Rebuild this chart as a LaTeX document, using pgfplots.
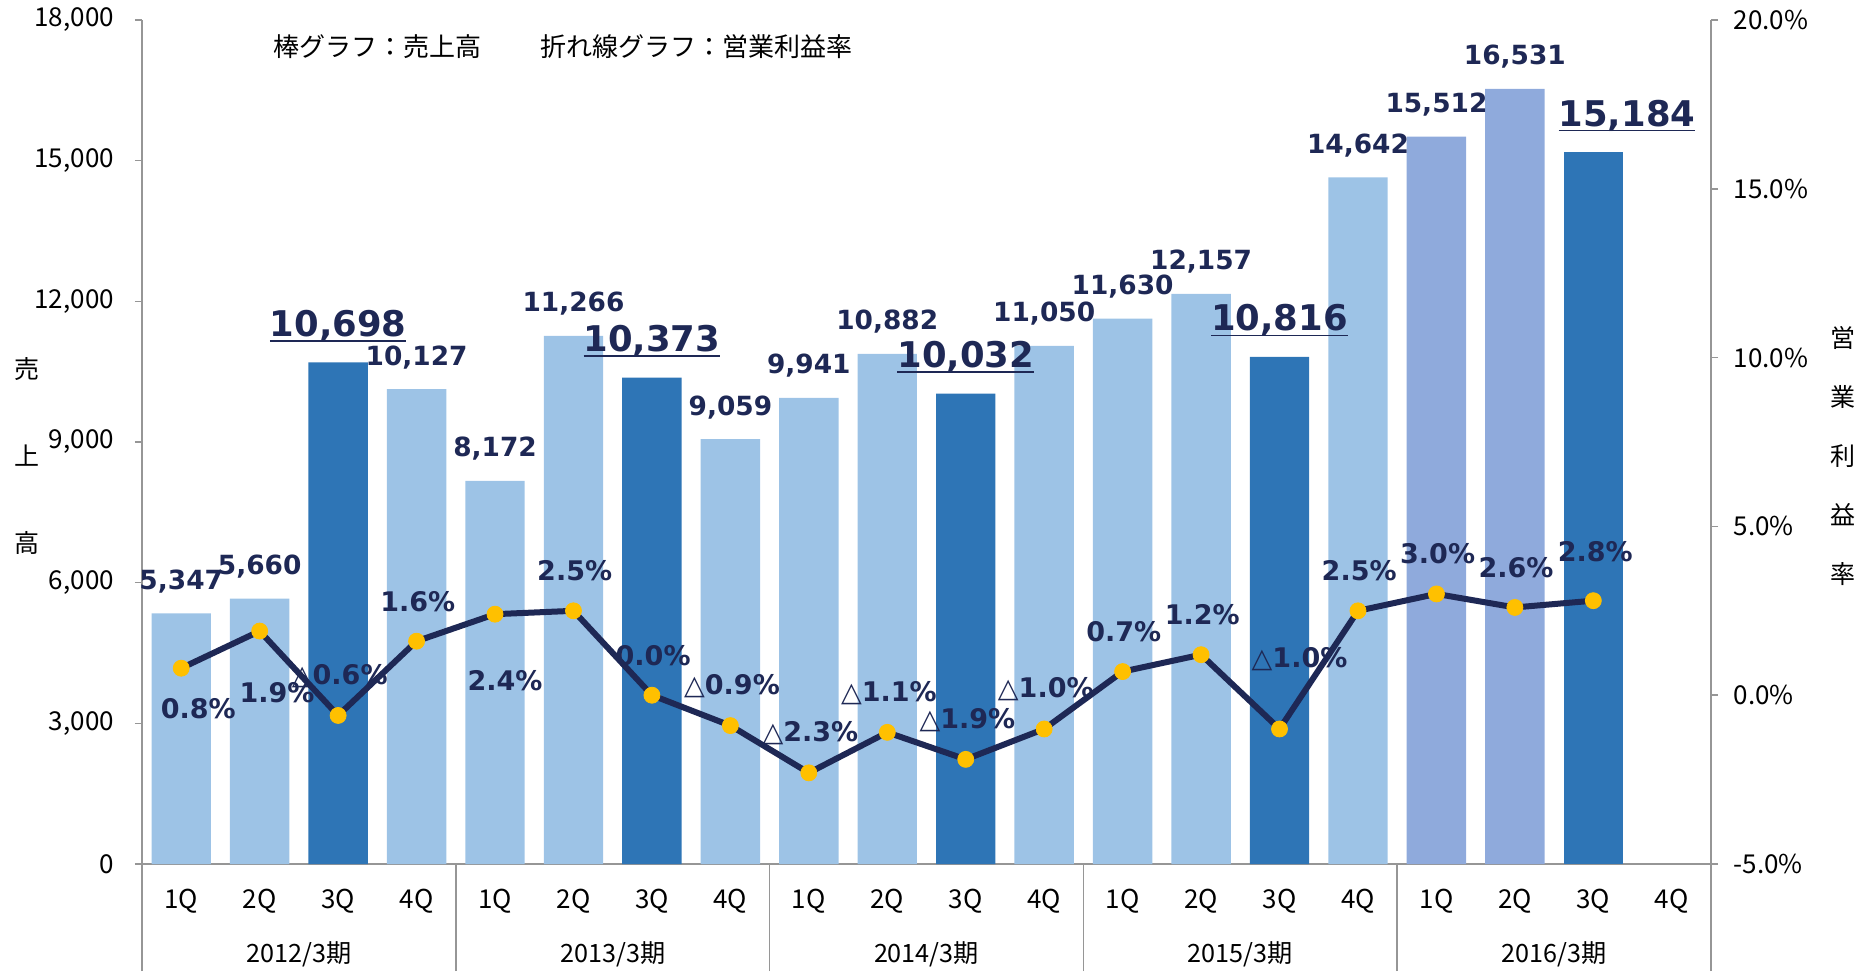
\documentclass[border=0pt]{standalone}
\usepackage{fontspec}
\usepackage{pgfplots}
\usepackage{pgfplotstable}
\pgfplotsset{compat=1.18}
\setmainfont{Noto Sans CJK JP}
\newfontfamily\lab{DejaVu Sans}
\definecolor{navy}{RGB}{30,40,85}
\definecolor{lb}{RGB}{157,195,230}
\definecolor{db}{RGB}{46,117,182}
\definecolor{pb}{RGB}{143,170,220}
\definecolor{gold}{RGB}{255,192,0}
\definecolor{axgray}{RGB}{150,150,150}
\newcommand\ulab[1]{\setbox0\hbox{#1}\rlap{\copy0}\rule[-2.6pt]{\wd0}{0.75pt}}
\newcommand\tri{{\mdseries △}}

\pgfplotstableread{
x y lab
0 5347 5,347
1 5660 5,660
3 10127 10,127
4 8172 8,172
5 11266 11,266
7 9059 9,059
8 9941 9,941
9 10882 10,882
11 11050 11,050
12 11630 11,630
13 12157 12,157
15 14642 14,642
}\lightbars
\pgfplotstableread{
x y lab
2 10698 10,698
6 10373 10,373
10 10032 10,032
14 10816 10,816
}\darkbars
\pgfplotstableread{
x y lab
18 15184 15,184
}\darkbarslast
\pgfplotstableread{
x y lab
16 15512 15,512
17 16531 16,531
}\purplebars
\pgfplotstableread{
x y
0 0.8
1 1.9
2 -0.6
3 1.6
4 2.4
5 2.5
6 0.0
7 -0.9
8 -2.3
9 -1.1
10 -1.9
11 -1.0
12 0.7
13 1.2
14 -1.0
15 2.5
16 3.0
17 2.6
18 2.8
}\margin

\begin{document}
\begin{tikzpicture}
\pgfplotsset{
  common/.style={
    at={(0pt,0pt)}, anchor=south west,
    scale only axis, width=784.5pt, height=422pt,
    xmin=-0.5, xmax=19.5,
    tick align=outside,
    major tick length=3.5pt,
    axis line style={draw=axgray, line width=0.75pt},
    y tick style={draw=axgray, line width=0.75pt},
    x tick style={draw=none},
    tick label style={font=\fontsize{13}{15}\selectfont, text=black},
    /pgf/number format/assume math mode=true,
    clip=false,
  },
  pct/.style n args={3}{draw=none, mark=none, point meta=explicit symbolic,
    nodes near coords={#1\pgfplotspointmeta\%},
    every node near coord/.append style={font=\lab\bfseries\fontsize{13.5}{15}\selectfont,
      text=navy, anchor=center, xshift=#2, yshift=#3}},
  smallbar/.style={ybar, bar width=29.7pt, bar shift=0pt, fill=#1, draw=none,
    point meta=explicit symbolic, nodes near coords,
    every node near coord/.append style={font=\lab\bfseries\fontsize{13.2}{15}\selectfont, text=navy, anchor=base, yshift=12pt}},
  bigbar/.style={ybar, bar width=29.7pt, bar shift=0pt, fill=db, draw=none,
    point meta=explicit symbolic, nodes near coords={\ulab{\pgfplotspointmeta}},
    every node near coord/.append style={font=\lab\bfseries\fontsize{17.7}{20}\selectfont, text=navy, anchor=base, yshift=13pt, xshift=#1}},
}
\begin{axis}[common,
  ymin=0, ymax=18000,
  ytick={0,3000,...,18000},
  scaled y ticks=false,
  axis y line*=left, axis x line*=bottom,
  /pgf/number format/.cd, fixed, 1000 sep={,}, /pgfplots/.cd,
  yticklabel style={anchor=east, xshift=-7pt},
  xtick={0,...,19},
  xticklabels={1Q,2Q,3Q,4Q,1Q,2Q,3Q,4Q,1Q,2Q,3Q,4Q,1Q,2Q,3Q,4Q,1Q,2Q,3Q,4Q},
  xticklabel style={anchor=center, yshift=-15pt},
  extra x ticks={-0.5,3.5,7.5,11.5,15.5,19.5},
  extra x tick labels={},
  extra x tick style={major tick length=53.5pt, x tick style={draw=axgray, line width=0.75pt}},
  ylabel={\begin{tabular}{@{}c@{}}売\\上\\高\end{tabular}},
  every axis y label/.style={at={(axis description cs:-0.0733,0.493)}, anchor=center, font=\fontsize{12.5}{43.5}\selectfont},
  title={棒グラフ：売上高\hspace{30pt}折れ線グラフ：営業利益率},
  title style={at={(axis description cs:0.079,0.954)}, anchor=west, font=\fontsize{13}{15}\selectfont},
]
\addplot[smallbar=lb] table[x=x, y=y, meta=lab]{\lightbars};
\addplot[smallbar=pb] table[x=x, y=y, meta=lab]{\purplebars};
\addplot[bigbar=0pt] table[x=x, y=y, meta=lab]{\darkbars};
\addplot[bigbar=16.8pt] table[x=x, y=y, meta=lab]{\darkbarslast};
\end{axis}

\begin{axis}[common,
  ymin=-5, ymax=20,
  ytick={-5,0,...,20},
  axis y line*=right, axis x line*=bottom,
  x axis line style={draw=none},
  yticklabel={\pgfmathprintnumber[fixed,fixed zerofill,precision=1]{\tick}\%},
  yticklabel style={anchor=west, xshift=4.3pt},
  xtick={1.5,5.5,9.5,13.5,17.5},
  xticklabels={2012/3期,2013/3期,2014/3期,2015/3期,2016/3期},
  xticklabel style={anchor=center, yshift=-41.5pt, font=\fontsize{12.6}{15}\selectfont},
  ylabel={\begin{tabular}{@{}c@{}}営\\業\\利\\益\\率\end{tabular}},
  every axis y label/.style={at={(axis description cs:1.0841,0.486)}, anchor=center, font=\fontsize{12.5}{29.5}\selectfont},
]
\addplot[navy, line width=3pt, line join=round, mark=*, mark size=4pt,
  mark options={fill=gold, draw=gold, line width=0.4pt}]
  table[x=x, y=y]{\margin};
% labels above, positive
\addplot[pct={}{0.6pt}{20pt}] table[meta=lab]{
x y lab
3 1.6 1.6
5 2.5 2.5
6 0.0 0.0
12 0.7 0.7
13 1.2 1.2
15 2.5 2.5
16 3.0 3.0
17 2.6 2.6
};
\addplot[pct={}{1pt}{24.3pt}] table[meta=lab]{
x y lab
18 2.8 2.8
};
% labels above, negative
\addplot[pct={\tri}{0.8pt}{19.8pt}] table[meta=lab]{
x y lab
2 -0.6 0.6
7 -0.9 0.9
8 -2.3 2.3
9 -1.1 1.1
10 -1.9 1.9
11 -1.0 1.0
};
\addplot[pct={\tri}{10pt}{35pt}] table[meta=lab]{
x y lab
14 -1.0 1.0
};
% labels below
\addplot[pct={}{8.5pt}{-20pt}] table[meta=lab]{
x y lab
0 0.8 0.8
};
\addplot[pct={}{8.7pt}{-30.7pt}] table[meta=lab]{
x y lab
1 1.9 1.9
};
\addplot[pct={}{5pt}{-33pt}] table[meta=lab]{
x y lab
4 2.4 2.4
};
\end{axis}
\pgfresetboundingbox
\useasboundingbox (-71pt,-53.5pt) rectangle (860pt,432pt);
\end{tikzpicture}
\end{document}
